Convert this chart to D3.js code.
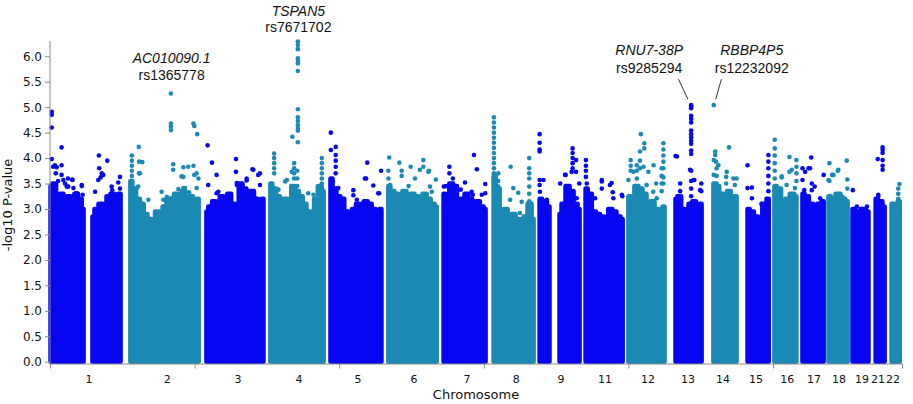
<!DOCTYPE html>
<html>
<head>
<meta charset="utf-8">
<script src="https://cdn.jsdelivr.net/npm/d3@7"></script>
<style>
body { margin: 0; background: #fff; }
</style>
</head>
<body>
<script>
// chromosomes on a cumulative position axis (Mb-like units)
var chrNames = ["1","2","3","4","5","6","7","8","9","11","12","13","14","15","16","17","18","19","21","22"];
var chrSegs = [
  [[2,116],[147,244]], [[278,514]], [[541,738]], [[762,946]], [[970,1146]],
  [[1170,1337]], [[1361,1506]], [[1534,1672]], [[1693,1727],[1762,1831]], [[1852,1980]],
  [[2000,2125]], [[2163,2253]], [[2294,2374]], [[2412,2485]], [[2505,2581]],
  [[2602,2675]], [[2692,2758]], [[2775,2830]], [[2855,2886]], [[2910,2938]]
];
// top of the dense SNP band, evenly spread over each segment
var chrTops = [
  [[3.45,3.5,3.2,3.3,3.1,3.25,3.15,3.3,3.2,3.0],[2.85,3.0,3.1,2.95,3.25,3.3,3.1,3.3]],
  [[3.55,3.4,3.2,3.1,2.9,2.8,2.75,2.95,2.7,3.05,3.2,3.1,3.3,3.15,3.35,3.2,3.25,3.1,3.2]],
  [[2.95,3.05,3.15,3.0,3.25,3.2,3.3,3.1,3.05,3.5,3.4,3.3,3.35,3.2,3.1,3.2]],
  [[3.5,3.4,3.25,3.1,3.2,3.0,3.45,3.35,3.25,3.1,2.95,2.85,3.2,3.45,3.35]],
  [[3.6,3.4,3.25,3.2,2.95,2.85,3.0,3.1,3.05,3.15,3.1,3.0,2.95,3.0]],
  [[3.45,3.35,3.3,3.25,3.35,3.2,3.3,3.25,3.15,3.3,3.2,3.1,3.05]],
  [[3.3,3.25,3.5,3.45,3.15,3.2,3.3,3.2,3.1,3.15,3.05,3.0]],
  [[3.65,3.4,2.95,3.0,2.85,2.9,2.8,2.75,2.85,3.1,2.8]],
  [[3.2,3.15,3.05],[2.9,3.1,3.45,3.35,3.1,3.0]],
  [[3.4,3.3,2.95,2.9,2.85,2.8,3.0,2.95,2.85,2.8]],
  [[3.25,3.2,3.45,3.4,3.3,3.1,3.15,3.0,2.95,3.05]],
  [[3.2,3.25,3.0,2.95,3.1,3.15,3.05,3.1]],
  [[3.5,3.45,3.3,3.25,3.35,3.2,3.25]],
  [[3.0,2.95,2.85,2.8,3.1,3.2]],
  [[3.45,3.4,3.15,3.2,3.3,3.25]],
  [[3.3,3.25,3.1,3.05,3.1,3.15]],
  [[3.25,3.2,3.3,3.2,3.15]],
  [[3.0,2.95,3.0,2.95]],
  [[3.2,3.15,3.05]],
  [[3.1,3.0,3.15]]
];
var chrLabelPos = [135,405,650,861,1065,1259,1442,1612,1767,1919,2068,2206,2327,2441,2549,2642,2728,2808,2863,2915];
var xTicks = [0,500,1000,1500,2000,2500,2946];
var yTicks = [0,0.5,1,1.5,2,2.5,3,3.5,4,4.5,5,5.5,6];

// SNPs standing above the dense band: [chromosome, position, -log10 p]
var hits = [
  ["1",6,4.91],["1",6,4.85],["1",6,4.60],["1",6,3.98],["1",17,3.86],["1",23,3.82],["1",20,3.70],
  ["1",40,4.21],["1",40,3.86],["1",40,3.67],["1",52,3.50],["1",77,3.58],["1",58,3.44],["1",81,3.41],
  ["1",110,3.45],["1",90,3.31],["1",113,3.28],["1",28,3.55],["1",62,3.60],["1",11,3.83],["1",46,3.57],
  ["1",63,3.44],["1",78,3.57],["1",92,3.31],["1",110,3.47],
  ["1",169,4.05],["1",198,3.95],["1",170,3.80],["1",179,3.70],["1",175,3.62],["1",184,3.67],
  ["1",242,3.63],["1",236,3.52],["1",156,3.34],["1",215,3.37],["1",167,3.57],["1",213,3.44],["1",242,3.40],
  ["2",307,4.22],["2",283,4.05],["2",283,3.95],["2",283,3.85],["2",283,3.75],["2",283,3.65],["2",283,3.55],
  ["2",308,3.93],["2",319,3.92],["2",308,3.70],["2",418,5.27],["2",418,4.68],["2",418,4.62],["2",418,4.55],
  ["2",426,3.88],["2",426,3.77],["2",461,3.82],["2",496,3.85],["2",461,3.63],["2",499,3.67],
  ["2",496,4.68],["2",499,4.63],["2",509,4.47],["2",507,3.70],["2",386,3.34],["2",404,3.24],
  ["2",444,3.39],["2",461,3.41],["2",481,3.33],["2",311,3.70],["2",305,3.44],["2",340,3.18],
  ["2",392,3.18],["2",421,3.21],["2",455,3.64],["2",467,3.41],["2",478,3.83],["2",507,3.41],["2",513,3.60],
  ["3",545,4.25],["3",560,3.91],["3",576,3.67],["3",547,3.47],["3",643,3.98],["3",643,3.73],
  ["3",700,3.78],["3",726,3.70],["3",726,3.47],["3",680,3.56],["3",576,3.31],["3",646,3.47],["3",619,3.28],
  ["3",582,3.34],["3",611,3.21],["3",646,3.51],["3",703,3.77],["3",720,3.67],["3",709,3.21],["3",680,3.60],
  ["4",775,4.09],["4",775,4.00],["4",775,3.90],["4",775,3.80],["4",775,3.70],["4",819,3.57],["4",838,4.42],
  ["4",844,3.90],["4",844,3.80],["4",844,3.70],["4",844,3.60],
  ["4",857,6.29],["4",857,6.22],["4",857,6.14],["4",857,5.96],["4",857,5.91],["4",857,5.86],["4",857,5.71],
  ["4",857,4.96],["4",857,4.80],["4",857,4.73],["4",857,4.65],["4",857,4.59],["4",857,4.54],["4",857,4.31],
  ["4",855,3.75],["4",855,3.60],["4",855,3.45],
  ["4",940,4.00],["4",940,3.90],["4",940,3.80],["4",940,3.70],["4",940,3.60],["4",940,3.50],["4",940,3.40],
  ["4",813,3.54],["4",841,3.37],["4",836,3.73],["4",893,3.31],["4",911,3.28],["4",790,3.38],
  ["5",971,4.50],["5",971,4.16],["5",988,4.22],["5",988,4.06],["5",988,3.95],["5",988,3.83],["5",988,3.70],
  ["5",978,3.54],["5",1097,3.91],["5",1093,3.60],["5",1118,3.46],["5",1145,3.75],["5",1138,3.31],
  ["5",1049,3.37],["5",1049,3.27],["5",997,3.41],["5",1026,2.95],["5",1061,3.18],["5",1089,3.60],["5",1135,3.31],
  ["6",1173,4.01],["6",1208,3.91],["6",1247,3.83],["6",1291,3.96],["6",1291,3.83],["6",1311,3.75],
  ["6",1334,3.58],["6",1170,3.75],["6",1170,3.60],["6",1216,3.75],["6",1216,3.65],["6",1314,3.44],["6",1176,3.47],
  ["6",1262,3.60],["6",1279,3.77],["6",1308,3.73],["6",1320,3.34],["6",1240,3.45],
  ["7",1381,3.83],["7",1381,3.70],["7",1362,3.44],["7",1369,3.45],["7",1393,3.60],["7",1393,3.45],
  ["7",1466,4.06],["7",1476,3.78],["7",1435,3.52],["7",1505,3.49],["7",1505,3.31],["7",1462,3.28],
  ["7",1458,3.34],["7",1493,3.28],["7",1420,3.38],
  ["8",1535,4.80],["8",1535,4.70],["8",1535,4.60],["8",1535,4.50],["8",1535,4.40],["8",1535,4.30],
  ["8",1535,4.20],["8",1535,4.10],["8",1535,4.00],["8",1535,3.90],["8",1535,3.80],["8",1535,3.70],
  ["8",1535,3.60],["8",1535,3.50],["8",1550,3.70],["8",1550,3.55],["8",1550,3.44],["8",1593,3.83],
  ["8",1602,3.41],["8",1619,3.32],["8",1657,4.00],["8",1657,3.80],["8",1657,3.70],["8",1657,3.60],["8",1657,3.44],
  ["8",1657,3.30],["8",1657,3.15],["8",1591,3.18],["8",1625,2.92],["8",1631,3.14],["8",1550,3.30],["8",1550,3.15],
  ["9",1693,4.47],["9",1693,4.30],["9",1693,4.17],["9",1693,4.13],["9",1693,3.57],["9",1693,3.47],
  ["9",1706,3.57],["9",1764,3.50],["9",1783,3.67],["9",1807,4.19],["9",1807,4.10],["9",1807,4.00],
  ["9",1807,3.90],["9",1807,3.80],["9",1819,3.96],["9",1819,3.73],["9",1830,3.50],
  ["9",1694,3.34],["9",1718,3.18],["9",1781,3.67],["9",1792,3.28],["9",1821,3.21],["9",1804,3.73],
  ["11",1853,3.96],["11",1853,3.85],["11",1853,3.75],["11",1853,3.63],["11",1856,3.50],["11",1908,3.57],
  ["11",1908,3.40],["11",1936,3.47],["11",1946,3.33],["11",1979,3.25],["11",1871,3.25],
  ["11",1867,3.28],["11",1885,3.21],["11",1908,3.54],["11",1942,3.51],["11",1948,3.21],["11",1977,3.28],
  ["12",2008,3.96],["12",2008,3.85],["12",2008,3.75],["12",2043,4.47],["12",2040,4.13],["12",2055,4.29],
  ["12",2055,4.19],["12",2040,3.95],["12",2040,3.80],["12",2069,3.73],["12",2087,3.86],["12",2096,3.50],
  ["12",2121,4.29],["12",2121,4.17],["12",2121,4.05],["12",2121,3.93],["12",2121,3.80],["12",2121,3.62],["12",2121,3.50],
  ["12",2000,3.57],["12",2017,3.73],["12",2029,3.86],["12",2029,3.75],["12",2029,3.60],["12",2029,3.45],
  ["12",2052,3.83],["12",2063,3.47],["12",2086,3.34],["12",2115,3.80],["12",2115,3.65],["12",2115,3.50],
  ["12",2115,3.35],["12",2098,3.21],
  ["13",2163,4.04],["13",2168,4.03],["13",2217,5.04],["13",2217,5.01],["13",2217,4.98],["13",2217,4.83],
  ["13",2217,4.77],["13",2217,4.70],["13",2217,4.54],["13",2217,4.47],["13",2217,4.41],["13",2217,4.34],
  ["13",2217,4.28],["13",2217,4.15],["13",2217,4.08],["13",2217,3.75],["13",2217,3.55],["13",2217,3.40],
  ["13",2228,3.57],["13",2179,3.50],["13",2179,3.35],["13",2252,3.50],["13",2252,3.35],
  ["13",2213,3.77],["13",2225,3.57],["13",2248,3.37],["13",2217,3.25],
  ["14",2295,5.04],["14",2300,4.13],["14",2300,4.06],["14",2295,3.96],["14",2303,3.93],["14",2295,3.67],
  ["14",2305,3.80],["14",2305,3.65],["14",2305,3.50],["14",2348,4.21],["14",2338,3.63],["14",2338,3.50],
  ["14",2363,3.60],["14",2374,3.60],["14",2311,3.86],["14",2340,3.73],["14",2368,3.47],
  ["15",2412,3.86],["15",2427,3.42],["15",2484,4.06],["15",2484,3.93],["15",2484,3.80],["15",2484,3.65],["15",2484,3.50],
  ["15",2412,3.41],["15",2427,3.21],["15",2484,3.35],["15",2460,3.10],
  ["16",2506,4.36],["16",2506,4.19],["16",2506,4.05],["16",2506,3.90],["16",2506,3.75],["16",2506,3.60],
  ["16",2530,3.62],["16",2557,4.02],["16",2557,3.73],["16",2581,3.96],["16",2581,3.83],["16",2581,3.70],
  ["16",2530,3.64],["16",2547,3.47],["16",2565,3.77],["16",2576,3.41],["16",2581,3.55],
  ["17",2602,3.80],["17",2632,4.01],["17",2628,3.80],["17",2611,3.73],["17",2602,3.57],["17",2644,3.44],
  ["17",2634,3.50],["17",2608,3.37],["17",2623,3.80],["17",2634,3.37],["17",2663,3.21],["17",2675,3.67],
  ["18",2695,3.90],["18",2724,3.75],["18",2709,3.67],["18",2695,3.55],["18",2755,3.95],["18",2757,3.58],
  ["18",2692,3.57],["18",2704,3.67],["18",2726,3.77],["18",2740,3.24],["18",2757,3.40],
  ["19",2776,3.37],["19",2790,3.05],["19",2825,3.05],
  ["21",2862,3.98],["21",2879,4.21],["21",2879,4.16],["21",2879,4.10],["21",2879,3.96],["21",2879,3.85],
  ["21",2879,3.77],["21",2864,3.24],["21",2864,3.28],
  ["22",2937,3.49],["22",2933,3.40],["22",2933,3.30],["22",2933,3.20],["22",2916,3.08]
];

// annotated lead SNPs
var leadGenes = ["AC010090.1","TSPAN5","RNU7-38P","RBBP4P5"];
var leadSnps  = ["rs1365778","rs7671702","rs9285294","rs12232092"];
var leadPos   = [418,857,2217,2295];
var leadP     = [5.27,6.29,5.04,5.04];
// label placement relative to the lead point (px): dx, gene dy, snp dy, leader line or null
var leadLayout = [
  [0.7,-30,-13.3,null],
  [0.5,-25.7,-10,null],
  [-42,-50,-32.3,[-12.7,-26,-3.3,-6]],
  [38,-50,-32.3,[7.7,-26,2,-6]]
];

var width = 913, height = 404;
var blue = "#0606f2", teal = "#1a8ab5", axisGrey = "#8a8a8a";

var svg = d3.select("body").append("svg")
    .attr("width", width)
    .attr("height", height);

var x = d3.scaleLinear().domain([0, 2946]).range([50, 902]);
var y = d3.scaleLinear().domain([0, 6.3]).range([361.7, 41]);

function colorOf(name) { return (+name) % 2 ? blue : teal; }

var r = 2.3;
var area = d3.area()
    .curve(d3.curveStep)
    .x(function(d) { return x(d[0]); })
    .y0(y(0))
    .y1(function(d) { return y(d[1]); });

var bands = svg.append("g");
chrNames.forEach(function(name, i) {
  chrSegs[i].forEach(function(seg, j) {
    var tops = chrTops[i][j];
    var pts = tops.map(function(v, k) {
      return [seg[0] + k * (seg[1] - seg[0]) / (tops.length - 1), v];
    });
    bands.append("path")
        .attr("d", area(pts))
        .attr("fill", colorOf(name))
        .attr("stroke", colorOf(name))
        .attr("stroke-width", 2 * r)
        .attr("stroke-linejoin", "round");
  });
});

svg.append("g").selectAll("circle")
    .data(hits).enter()
    .append("circle")
    .attr("cx", function(d) { return x(d[1]); })
    .attr("cy", function(d) { return y(d[2]); })
    .attr("r", r)
    .attr("fill", function(d) { return colorOf(d[0]); });

// axes
var yAxis = svg.append("g")
    .attr("transform", "translate(50,0)")
    .call(d3.axisLeft(y).tickValues(yTicks).tickFormat(d3.format(".1f")).tickSize(5).tickSizeOuter(0).tickPadding(3));
yAxis.select(".domain").attr("d", "M0," + y(6.3) + "V363.5");

var xAxis = svg.append("g")
    .attr("transform", "translate(0,363.5)")
    .call(d3.axisBottom(x).tickValues(xTicks).tickFormat("").tickSize(5).tickSizeOuter(0));

svg.selectAll(".domain, .tick line").attr("stroke", axisGrey);
yAxis.selectAll("text")
    .attr("fill", "#111")
    .style("font-family", "DejaVu Sans")
    .style("font-size", "12px");

svg.append("g").selectAll("text")
    .data(chrNames).enter()
    .append("text")
    .attr("x", function(d, i) { return x(chrLabelPos[i]); })
    .attr("y", 383)
    .attr("text-anchor", "middle")
    .attr("fill", "#111")
    .style("font-family", "DejaVu Sans")
    .style("font-size", "11px")
    .text(function(d) { return d; });

svg.append("text")
    .attr("x", 476)
    .attr("y", 399)
    .attr("text-anchor", "middle")
    .attr("fill", "#111")
    .style("font-family", "DejaVu Sans")
    .style("font-size", "13px")
    .text("Chromosome");

svg.append("text")
    .attr("transform", "translate(12,205) rotate(-90)")
    .attr("text-anchor", "middle")
    .attr("fill", "#111")
    .style("font-family", "DejaVu Sans")
    .style("font-size", "13px")
    .text("-log10 P-value");

// lead SNP labels
leadGenes.forEach(function(gene, i) {
  var px = x(leadPos[i]), py = y(leadP[i]), L = leadLayout[i];
  svg.append("text")
      .attr("x", px + L[0]).attr("y", py + L[1])
      .attr("text-anchor", "middle")
      .style("font-family", "Liberation Sans, Arial")
      .style("font-size", "14px")
      .style("font-style", "italic")
      .attr("fill", "#111")
      .text(gene);
  svg.append("text")
      .attr("x", px + L[0]).attr("y", py + L[2])
      .attr("text-anchor", "middle")
      .style("font-family", "Liberation Sans, Arial")
      .style("font-size", "14px")
      .attr("fill", "#111")
      .text(leadSnps[i]);
  if (L[3]) {
    svg.append("line")
        .attr("x1", px + L[3][0]).attr("y1", py + L[3][1])
        .attr("x2", px + L[3][2]).attr("y2", py + L[3][3])
        .attr("stroke", "#333")
        .attr("stroke-width", 1);
  }
});
</script>
</body>
</html>
